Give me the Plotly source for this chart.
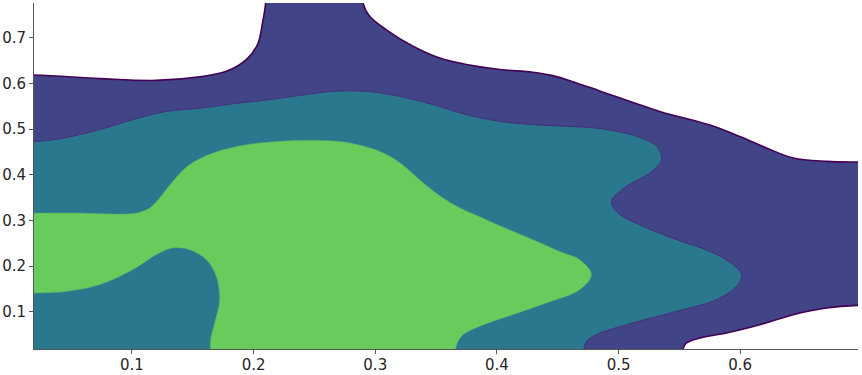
import plotly.graph_objects as go

# Contour level boundaries (data coordinates).
# Level 1 (outermost, purple) region boundary
outer_x = [-0.05, -0.05, 0.0191, 0.0734, 0.120, 0.1556, 0.1778, 0.1942, 0.2033, 0.2074, 0.2099, 0.2105,
           0.2895, 0.2899, 0.2954, 0.3091, 0.331, 0.353, 0.375, 0.4026, 0.4294, 0.4459, 0.4654, 0.4845,
           0.5338, 0.575, 0.5997, 0.6216, 0.6435, 0.671, 0.697, 0.75, 0.75,
           0.697, 0.671, 0.6435, 0.616, 0.5887, 0.5668, 0.5558, 0.553, 0.553]
outer_y = [-0.05, 0.619, 0.619, 0.611, 0.607, 0.615, 0.627, 0.653, 0.686, 0.734, 0.777, 0.85,
           0.85, 0.777, 0.7476, 0.718, 0.682, 0.656, 0.642, 0.631, 0.625, 0.6175, 0.6015, 0.584,
           0.539, 0.509, 0.484, 0.459, 0.437, 0.4296, 0.428, 0.428, 0.1138,
           0.1138, 0.108, 0.0934, 0.0715, 0.0533, 0.0423, 0.0314, 0.018, -0.05]

# Level 2 (teal) region boundary
mid_x = [-0.05, -0.05, 0.0191, 0.0405, 0.0734, 0.1007, 0.1282, 0.1556, 0.183, 0.2104, 0.237, 0.2652,
         0.2927, 0.3201, 0.3474, 0.3749, 0.4023, 0.4297, 0.4571, 0.4845, 0.5147, 0.5312,
         0.5353, 0.5257, 0.5065, 0.4942, 0.4996, 0.5201, 0.5476, 0.575, 0.5942, 0.6011, 0.5969,
         0.5805, 0.5476, 0.5065, 0.4818, 0.4736, 0.4716, 0.4716]
mid_y = [-0.05, 0.4728, 0.4728, 0.479, 0.499, 0.521, 0.539, 0.546, 0.556, 0.5638, 0.5737, 0.583,
         0.583, 0.572, 0.554, 0.532, 0.5173, 0.510, 0.5064, 0.5015, 0.4844, 0.4625,
         0.4333, 0.4042, 0.3748, 0.3419, 0.3164, 0.2871, 0.2579, 0.2322, 0.2031, 0.1811, 0.1555,
         0.1263, 0.1007, 0.0715, 0.0496, 0.0349, 0.0182, -0.05]

# Level 3 (green) region boundary
inner_x = [-0.05, 0.0193, 0.0569, 0.0843, 0.1035, 0.1145, 0.1227, 0.1336, 0.1474, 0.1665, 0.194,
           0.2214, 0.2488, 0.2762, 0.3036, 0.3201, 0.3365, 0.353, 0.3694, 0.3859, 0.4023, 0.4297,
           0.4516, 0.4681, 0.4777, 0.4681, 0.4407, 0.4132, 0.3859, 0.3708, 0.3661, 0.3661,
           0.1644, 0.1644, 0.1646, 0.1679, 0.172, 0.1693, 0.1611, 0.1474, 0.1336, 0.12, 0.1007,
           0.0734, 0.046, 0.0193, -0.05]
inner_y = [0.3164, 0.3164, 0.3164, 0.3143, 0.3164, 0.3274, 0.3493, 0.3857, 0.4224, 0.448, 0.4662,
           0.4735, 0.4757, 0.4713, 0.4515, 0.4268, 0.3895, 0.3544, 0.328, 0.3083, 0.2886, 0.2579,
           0.2322, 0.214, 0.1811, 0.1482, 0.1191, 0.0934, 0.0678, 0.0458, 0.0182, -0.05,
           -0.05, 0.0182, 0.0386, 0.0752, 0.1263, 0.1774, 0.214, 0.236, 0.2397, 0.225, 0.1921,
           0.1592, 0.1445, 0.141, 0.141]

x_ticks = [0.1, 0.2, 0.3, 0.4, 0.5, 0.6]
y_ticks = [0.1, 0.2, 0.3, 0.4, 0.5, 0.6, 0.7]

fig = go.Figure()
fig.add_trace(go.Scatter(x=outer_x, y=outer_y, fill="toself", fillcolor="#414487",
                         mode="lines", line=dict(color="#440154", width=1.6, shape="spline", smoothing=1.0),
                         hoverinfo="skip", showlegend=False))
fig.add_trace(go.Scatter(x=mid_x, y=mid_y, fill="toself", fillcolor="#2a788e",
                         mode="lines", line=dict(color="#46307a", width=1.0, shape="spline", smoothing=1.0),
                         hoverinfo="skip", showlegend=False))
fig.add_trace(go.Scatter(x=inner_x, y=inner_y, fill="toself", fillcolor="#67cc5c",
                         mode="lines", line=dict(color="#4aa872", width=0.5, shape="spline", smoothing=1.0),
                         hoverinfo="skip", showlegend=False))

axis_common = dict(showgrid=False, zeroline=False, showline=True, linecolor="#555555", linewidth=1,
                   ticks="outside", ticklen=4, tickwidth=1, tickcolor="#555555",
                   tickfont=dict(family="DejaVu Sans", size=15, color="#262626"),
                   automargin=False, mirror=False)

fig.update_layout(
    width=862, height=375,
    margin=dict(l=34, r=4, t=3, b=26),
    plot_bgcolor="white", paper_bgcolor="white",
    xaxis=dict(range=[0.0195, 0.6968], tickvals=x_ticks, ticktext=[str(v) for v in x_ticks],
               ticklabelstandoff=-2, **axis_common),
    yaxis=dict(range=[0.0182, 0.7767], tickvals=y_ticks, ticktext=[str(v) for v in y_ticks], **axis_common),
)

fig.write_html("out.html")
